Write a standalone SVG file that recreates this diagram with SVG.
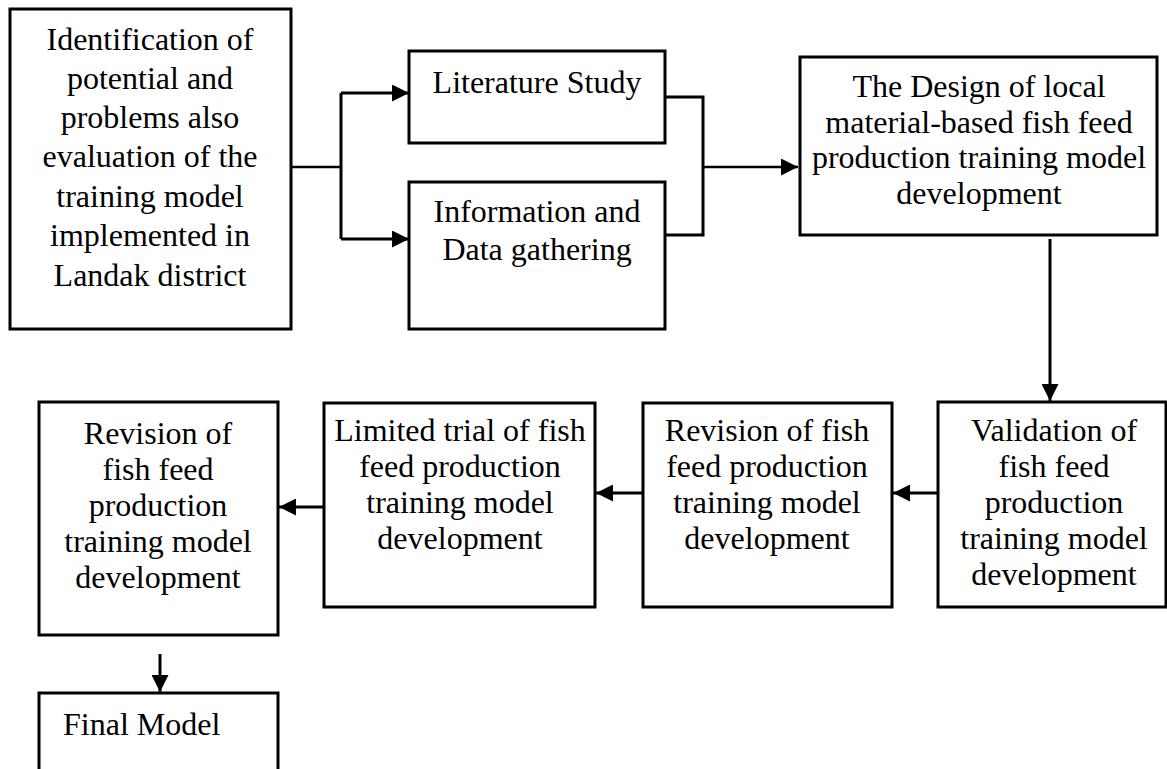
<svg xmlns="http://www.w3.org/2000/svg" width="1167" height="769" viewBox="0 0 1167 769">
<style>
.box{fill:#fff;stroke:#000;stroke-width:3}
.t{font-size:32px;fill:#000;text-anchor:middle}
.ts{text-anchor:start}
.c{fill:none;stroke:#000;stroke-width:3}
.c2{fill:none;stroke:#000;stroke-width:2.5}
</style>
<defs>
<marker id="ah" viewBox="0 0 10 10" refX="10" refY="5" markerUnits="userSpaceOnUse" markerWidth="18" markerHeight="17" orient="auto">
<path d="M0,0 L10,5 L0,10 Z" fill="#000"/>
</marker>
</defs>
<rect width="1167" height="769" fill="#fff"/>
<g id="connectors">
<path class="c2" d="M291,167 H341"/>
<path class="c" d="M341,93 V239"/>
<path class="c" d="M341,93 H409" marker-end="url(#ah)"/>
<path class="c" d="M341,239 H409" marker-end="url(#ah)"/>
<path class="c" d="M665,97 H703 V235 H665"/>
<path class="c2" d="M703,167 H798" marker-end="url(#ah)"/>
<path class="c" d="M1050,239 V401" marker-end="url(#ah)"/>
<path class="c" d="M938,493 H893" marker-end="url(#ah)"/>
<path class="c" d="M643,493 H596" marker-end="url(#ah)"/>
<path class="c" d="M324,507 H279" marker-end="url(#ah)"/>
<path class="c" d="M160,654 V692" marker-end="url(#ah)"/>
</g>
<g font-family="'Liberation Serif', 'Times New Roman', 'DejaVu Serif', serif">
<g id="n1">
<rect class="box" x="10" y="9" width="281" height="320"/>
<text class="t" x="150"><tspan x="150" y="50">Identification of</tspan><tspan x="150" y="89">potential and</tspan><tspan x="150" y="128">problems also</tspan><tspan x="150" y="167">evaluation of the</tspan><tspan x="150" y="207">training model</tspan><tspan x="150" y="246">implemented in</tspan><tspan x="150" y="286">Landak district</tspan></text>
</g>
<g id="n2">
<rect class="box" x="409" y="51" width="256" height="92"/>
<text class="t" x="537" y="93">Literature Study</text>
</g>
<g id="n3">
<rect class="box" x="409" y="182" width="256" height="147"/>
<text class="t"><tspan x="537" y="222">Information and</tspan><tspan x="537" y="260">Data gathering</tspan></text>
</g>
<g id="n4">
<rect class="box" x="800" y="57" width="357" height="178"/>
<text class="t"><tspan x="979" y="97">The Design of local</tspan><tspan x="979" y="133">material-based fish feed</tspan><tspan x="979" y="168">production training model</tspan><tspan x="979" y="204">development</tspan></text>
</g>
<g id="n5">
<rect class="box" x="938" y="402" width="228" height="205"/>
<text class="t"><tspan x="1054" y="441">Validation of</tspan><tspan x="1054" y="477">fish feed</tspan><tspan x="1054" y="513">production</tspan><tspan x="1054" y="549">training model</tspan><tspan x="1054" y="585">development</tspan></text>
</g>
<g id="n6">
<rect class="box" x="643" y="403" width="249" height="204"/>
<text class="t"><tspan x="767" y="441">Revision of fish</tspan><tspan x="767" y="477">feed production</tspan><tspan x="767" y="513">training model</tspan><tspan x="767" y="549">development</tspan></text>
</g>
<g id="n7">
<rect class="box" x="324" y="403" width="271" height="204"/>
<text class="t"><tspan x="460" y="441">Limited trial of fish</tspan><tspan x="460" y="477">feed production</tspan><tspan x="460" y="513">training model</tspan><tspan x="460" y="549">development</tspan></text>
</g>
<g id="n8">
<rect class="box" x="39" y="402" width="239" height="233"/>
<text class="t"><tspan x="158" y="444">Revision of</tspan><tspan x="158" y="480">fish feed</tspan><tspan x="158" y="516">production</tspan><tspan x="158" y="552">training model</tspan><tspan x="158" y="588">development</tspan></text>
</g>
<g id="n9">
<rect class="box" x="39" y="693" width="239" height="90"/>
<text class="t ts" x="63" y="735">Final Model</text>
</g>
</g>
</svg>
